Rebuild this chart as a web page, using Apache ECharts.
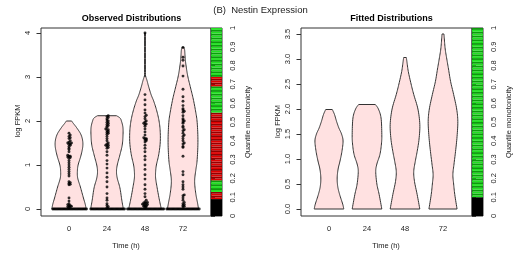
<!DOCTYPE html>
<html><head><meta charset="utf-8">
<script src="https://cdn.jsdelivr.net/npm/echarts@6/dist/echarts.min.js"></script>
<style>html,body{margin:0;padding:0;background:#fff}#c{width:523px;height:262px}</style>
</head><body><div id="c"></div>
<script>
// ---------- data ----------
const timeLabels = ['0', '24', '48', '72'];
const mainTitle = '(B)  Nestin Expression';
const leftTitle = 'Observed Distributions';
const rightTitle = 'Fitted Distributions';
const yName = 'log FPKM';
const xName = 'Time (h)';
const monoName = 'Quantile monotonicity';

// violin profiles: [log FPKM, half width as fraction of category band]
const obsViolin0 = [[0,0.45],[0.1,0.43],[0.25,0.38],[0.5,0.3],[0.7,0.23],[0.85,0.22],[1.0,0.24],[1.2,0.31],[1.4,0.36],[1.55,0.36],[1.7,0.31],[1.85,0.2],[1.95,0.11],[2.0,0.07]];
const obsViolin24 = [[0,0.43],[0.2,0.39],[0.48,0.34],[0.7,0.27],[0.85,0.25],[1.0,0.27],[1.23,0.34],[1.45,0.4],[1.65,0.42],[1.85,0.42],[2.0,0.38],[2.07,0.34],[2.12,0.25]];
const obsViolin48 = [[0,0.43],[0.2,0.38],[0.48,0.32],[0.7,0.28],[0.85,0.28],[1.0,0.3],[1.23,0.36],[1.5,0.4],[1.77,0.4],[2.0,0.37],[2.23,0.31],[2.45,0.23],[2.6,0.16],[2.8,0.09],[2.9,0.06],[2.97,0.035],[3.02,0.018],[3.1,0.012],[4.0,0.012]];
const obsViolin72 = [[0,0.41],[0.15,0.38],[0.33,0.34],[0.55,0.31],[0.7,0.31],[0.9,0.34],[1.09,0.37],[1.4,0.39],[1.69,0.39],[2.0,0.37],[2.23,0.33],[2.5,0.27],[2.75,0.2],[3.0,0.13],[3.2,0.09],[3.4,0.06],[3.6,0.045],[3.67,0.03]];
const fitViolin0 = [[0,0.39],[0.1,0.36],[0.29,0.28],[0.45,0.23],[0.62,0.215],[0.8,0.24],[0.96,0.29],[1.15,0.34],[1.36,0.37],[1.5,0.33],[1.62,0.26],[1.75,0.2],[1.89,0.145],[1.99,0.087]];
const fitViolin24 = [[0,0.39],[0.29,0.32],[0.5,0.26],[0.75,0.23],[0.9,0.26],[1.09,0.34],[1.3,0.38],[1.49,0.39],[1.82,0.37],[2.0,0.3],[2.09,0.22]];
const fitViolin48 = [[0,0.39],[0.29,0.32],[0.55,0.25],[0.75,0.23],[0.95,0.27],[1.15,0.32],[1.4,0.37],[1.69,0.39],[2.0,0.34],[2.29,0.23],[2.5,0.16],[2.75,0.087],[2.95,0.05],[3.03,0.035]];
const fitViolin72 = [[0,0.37],[0.29,0.31],[0.5,0.28],[0.69,0.26],[0.9,0.29],[1.15,0.33],[1.45,0.37],[1.75,0.39],[2.0,0.36],[2.29,0.28],[2.55,0.2],[2.8,0.145],[3.0,0.1],[3.2,0.058],[3.4,0.035],[3.5,0.026]];

// observed cells (log FPKM), nonzero values, plus number of zero cells per time point
const obsPoints0 = [1.72,1.68,1.65,1.62,1.6,1.55,1.52,1.5,1.5,1.48,1.47,1.45,1.42,1.38,1.35,1.3,1.22,1.2,1.2,1.18,1.17,1.15,1.1,1.05,1.0,0.95,0.9,0.85,0.8,0.75,0.62,0.6,0.58,0.56,0.55,0.25,0.18,0.12,0.1,0.08,0.07,0.06,0.05,0.05,0.04];
const obsPoints24 = [2.12,2.1,2.08,2.05,2.02,2.0,1.97,1.95,1.92,1.9,1.88,1.85,1.82,1.8,1.78,1.76,1.74,1.72,1.7,1.65,1.6,1.55,1.5,1.48,1.45,1.45,1.43,1.4,1.38,1.3,1.22,1.1,1.02,0.93,0.82,0.72,0.62,0.5,0.35,0.25,0.2,0.12,0.08,0.05,0.03];
const obsPoints48 = [4.0,2.6,2.48,2.37,2.25,2.18,2.13,2.1,2.05,2.0,1.98,1.95,1.93,1.92,1.88,1.82,1.75,1.68,1.62,1.6,1.6,1.58,1.57,1.55,1.52,1.45,1.38,1.3,1.2,1.12,1.0,0.9,0.78,0.68,0.55,0.45,0.35,0.28,0.2,0.16,0.15,0.14,0.13,0.12,0.11,0.1,0.09,0.08,0.07,0.06,0.05,0.04];
const obsPoints72 = [3.67,3.45,3.38,3.25,3.02,2.72,2.55,2.45,2.35,2.28,2.25,2.22,2.2,2.12,2.05,2.02,2.0,1.98,1.95,1.88,1.85,1.8,1.78,1.72,1.68,1.65,1.6,1.55,1.5,1.48,1.42,1.4,1.2,0.85,0.78,0.62,0.55,0.5,0.45,0.32,0.3,0.25,0.2,0.15,0.12,0.1,0.08,0.06,0.05];
const obsZeroCounts = [28, 28, 30, 27];

// quantile monotonicity segments: [from, to, status]
const obsMonoSegments = [[0,0.09,'na'],[0.09,0.128,'dec'],[0.128,0.19,'inc'],[0.19,0.55,'dec'],[0.55,0.69,'inc'],[0.69,0.74,'dec'],[0.74,1.0,'inc']];
const fitMonoSegments = [[0,0.1,'na'],[0.1,1.0,'inc']];

const leftYTicks = [0, 4, 1];     // min, max, step
const rightYTicks = [0, 3.5, 0.5];
const monoTicks = [0, 1, 0.1];

// ---------- helpers (rendering only) ----------
const FONT = "'Liberation Sans', Arial, Helvetica, sans-serif";
const TXT = '#222';
const shades = { inc: ['#22e022', '#0b9b0b'], dec: ['#e00000', '#900000'], na: ['#000', '#000'] };

function spline(pts, seg) {
  const out = [];
  for (let i = 0; i < pts.length - 1; i++) {
    const p0 = pts[Math.max(i - 1, 0)], p1 = pts[i], p2 = pts[i + 1], p3 = pts[Math.min(i + 2, pts.length - 1)];
    for (let s = 0; s < seg; s++) {
      const t = s / seg, t2 = t * t, t3 = t2 * t;
      const f = (a, b, c, d) => 0.5 * (2 * b + (-a + c) * t + (2 * a - 5 * b + 4 * c - d) * t2 + (-a + 3 * b - 3 * c + d) * t3);
      out.push([f(p0[0], p1[0], p2[0], p3[0]), f(p0[1], p1[1], p2[1], p3[1])]);
    }
  }
  out.push(pts[pts.length - 1]);
  return out;
}

function violinSeries(profiles, axisIdx) {
  return {
    type: 'custom', xAxisIndex: axisIdx, yAxisIndex: axisIdx, z: 2, silent: true,
    data: profiles.map((p, i) => [i, 0]),
    renderItem: (params, api) => {
      const i = api.value(0);
      const prof = profiles[i];
      const band = api.size([1, 0])[0];
      const right = prof.map(([v, hw]) => { const c = api.coord([i, v]); return [c[0] + hw * band, c[1]]; });
      const left = prof.map(([v, hw]) => { const c = api.coord([i, v]); return [c[0] - hw * band, c[1]]; });
      const pts = spline(right, 8).concat(spline(left, 8).reverse());
      return { type: 'polygon', shape: { points: pts }, style: { fill: '#ffe1e1', stroke: '#333', lineWidth: 1 } };
    }
  };
}

function swarmData(groups, zeros, step, d) {
  const out = [];
  groups.forEach((vals, g) => {
    const all = vals.concat(new Array(zeros[g]).fill(0));
    const bins = {};
    all.slice().sort((a, b) => a - b).forEach(v => {
      const b = Math.round(v / step);
      const k = bins[b] || 0; bins[b] = k + 1;
      const slot = k === 0 ? 0 : (k % 2 ? (k + 1) / 2 : -k / 2);
      out.push({ value: [g, v], symbolOffset: [slot * d, 0] });
    });
  });
  return out;
}

function monoData(segments) {
  const out = []; let n = 0;
  segments.forEach(([a, b, s]) => {
    if (s === 'na') { out.push([a, b, '#000']); return; }
    const cells = Math.max(1, Math.round((b - a) / 0.01));
    const h = (b - a) / cells;
    for (let j = 0; j < cells; j++) { out.push([a + j * h, a + (j + 1) * h, shades[s][n % 2]]); n++; }
  });
  return out;
}

function monoSeries(segments, axisIdx) {
  const cells = monoData(segments);
  return {
    type: 'custom', xAxisIndex: axisIdx, yAxisIndex: axisIdx, silent: true, z: 2,
    data: cells,
    renderItem: (params, api) => {
      const it = cells[params.dataIndex];
      const p1 = api.coord([0, it[1]]), p0 = api.coord([1, it[0]]);
      return { type: 'rect', shape: { x: p1[0], y: p1[1], width: p0[0] - p1[0], height: p0[1] - p1[1] }, style: { fill: it[2] } };
    }
  };
}

const lab = { fontFamily: FONT, fontSize: 7.5, color: TXT };
const hiddenAx = (gi) => ({ gridIndex: gi, type: 'value', show: false, min: 0, max: 1 });

function panelAxes(base, yRange, yFmt) {
  const xs = [
    hiddenAx(base),
    { gridIndex: base + 1, type: 'category', data: timeLabels, offset: 7,
      axisLine: { show: false }, axisTick: { alignWithLabel: true, length: 5, lineStyle: { color: '#333' } },
      axisLabel: Object.assign({ margin: 9 }, lab),
      name: xName, nameLocation: 'middle', nameGap: 26, nameTextStyle: Object.assign({}, lab) },
    hiddenAx(base + 2)
  ];
  const ys = [
    hiddenAx(base),
    { gridIndex: base + 1, type: 'value', min: yRange[0], max: yRange[1], interval: yRange[2], offset: 9,
      axisLine: { show: false }, splitLine: { show: false },
      axisTick: { show: true, length: 4.5, lineStyle: { color: '#333' } },
      axisLabel: Object.assign({ rotate: 90, margin: 9, formatter: yFmt }, lab),
      name: yName, nameLocation: 'middle', nameGap: 19, nameTextStyle: Object.assign({}, lab) },
    { gridIndex: base + 2, type: 'value', position: 'right', min: monoTicks[0], max: monoTicks[1], interval: monoTicks[2],
      axisLine: { show: false }, splitLine: { show: false },
      axisTick: { show: true, length: 4, lineStyle: { color: '#333' } },
      axisLabel: Object.assign({ rotate: 90, margin: 7, formatter: v => (Math.abs(v) < 1e-9 ? '0' : Math.abs(v - 1) < 1e-9 ? '1' : v.toFixed(1)) }, lab),
      name: monoName, nameLocation: 'middle', nameGap: 22, nameRotate: 90, nameTextStyle: Object.assign({}, lab) }
  ];
  return { xs, ys };
}

const L = panelAxes(0, leftYTicks, v => String(v));
const R = panelAxes(3, rightYTicks, v => v.toFixed(1));

const frame = { show: true, borderColor: '#333', borderWidth: 1, backgroundColor: 'transparent' };
const option = {
  animation: false,
  grid: [
    Object.assign({ left: 41, top: 28, width: 170, height: 188 }, frame),
    { left: 50, top: 33, width: 152, height: 176 },
    Object.assign({ left: 211, top: 28, width: 11, height: 188 }, frame),
    Object.assign({ left: 301, top: 28, width: 171, height: 188 }, frame),
    { left: 310, top: 34, width: 152, height: 175 },
    Object.assign({ left: 472, top: 28, width: 11, height: 188 }, frame)
  ],
  xAxis: L.xs.concat(R.xs),
  yAxis: L.ys.concat(R.ys),
  graphic: [
    { type: 'text', x: 260.5, y: 10, style: { text: mainTitle, font: '9.5px ' + FONT, fill: TXT, align: 'center', verticalAlign: 'middle' } },
    { type: 'text', x: 131.5, y: 19, style: { text: leftTitle, font: 'bold 9px ' + FONT, fill: '#000', align: 'center', verticalAlign: 'middle' } },
    { type: 'text', x: 391.5, y: 19, style: { text: rightTitle, font: 'bold 9px ' + FONT, fill: '#000', align: 'center', verticalAlign: 'middle' } }
  ],
  series: [
    violinSeries([obsViolin0, obsViolin24, obsViolin48, obsViolin72], 1),
    { type: 'scatter', xAxisIndex: 1, yAxisIndex: 1, z: 3, silent: true, symbol: 'circle', symbolSize: 2.9,
      itemStyle: { color: '#000' }, data: swarmData([obsPoints0, obsPoints24, obsPoints48, obsPoints72], obsZeroCounts, 0.045, 1.25) },
    monoSeries(obsMonoSegments, 2),
    violinSeries([fitViolin0, fitViolin24, fitViolin48, fitViolin72], 4),
    monoSeries(fitMonoSegments, 5)
  ]
};
const chart = echarts.init(document.getElementById('c'), null, { renderer: 'canvas' });
chart.setOption(option);
</script></body></html>
